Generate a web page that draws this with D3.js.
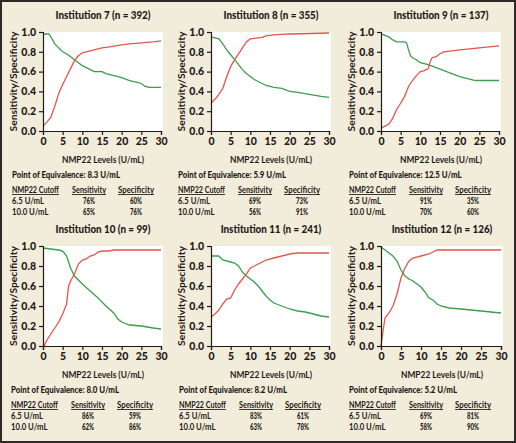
<!DOCTYPE html>
<html><head><meta charset="utf-8">
<script src="https://cdn.jsdelivr.net/npm/d3@7"></script>
<style>
html,body{margin:0;padding:0;background:#fff;}
svg{display:block;}
text{font-family:Lato,'Open Sans',sans-serif;fill:#1f1a17;}
</style></head><body>
<svg id="chart" width="516" height="443"></svg>
<script>
// ---- data ----
const institutions = ["Institution 7", "Institution 8", "Institution 9", "Institution 10", "Institution 11", "Institution 12"];
const sampleSizes = [392, 355, 137, 99, 241, 126];
const equivalencePoints = ["8.3", "5.9", "12.5", "8.0", "8.2", "5.2"];
const cutoffLabels = ["6.5 U/mL", "10.0 U/mL"];
const sensitivity65 = ["76%", "69%", "91%", "86%", "83%", "69%"];
const specificity65 = ["60%", "73%", "35%", "59%", "61%", "81%"];
const sensitivity10 = ["65%", "56%", "70%", "62%", "63%", "58%"];
const specificity10 = ["76%", "91%", "60%", "86%", "78%", "90%"];
const xTicks = [0, 5, 10, 15, 20, 25, 30];
const yTicks = [0, 0.2, 0.4, 0.6, 0.8, 1.0];

// [NMP22 level, value]
const red7 = [[0,0.05],[1,0.09],[2,0.14],[3,0.25],[4,0.38],[5,0.47],[6,0.55],[7,0.63],[8,0.71],[9,0.76],[10,0.79],[11,0.80],[12,0.81],[13,0.82],[15,0.84],[17,0.85],[20,0.87],[22,0.88],[25,0.89],[28,0.90],[30,0.91]];
const green7 = [[0,0.98],[1.5,0.98],[2,0.95],[3,0.88],[4,0.84],[5,0.80],[6,0.78],[7,0.75],[8,0.72],[9,0.69],[10,0.66],[11,0.64],[12,0.62],[13,0.60],[15,0.60],[16,0.58],[18,0.56],[20,0.54],[22,0.51],[24,0.49],[25,0.48],[26,0.45],[27,0.44],[30,0.44]];
const red8 = [[0,0.28],[1,0.32],[2,0.37],[3,0.43],[4,0.55],[5,0.65],[6,0.72],[7,0.78],[8,0.84],[9,0.90],[10,0.93],[12,0.94],[13,0.945],[14,0.96],[16,0.97],[18,0.975],[20,0.98],[25,0.985],[30,0.99]];
const green8 = [[0,0.95],[2,0.93],[3,0.88],[4,0.82],[5,0.77],[6,0.72],[7,0.67],[8,0.62],[9,0.58],[10,0.55],[11,0.52],[12,0.50],[13,0.48],[14,0.46],[16,0.44],[18,0.43],[20,0.40],[22,0.39],[25,0.37],[28,0.35],[30,0.34]];
const red9 = [[0,0.03],[1,0.05],[2,0.07],[3,0.13],[4,0.22],[5,0.28],[6,0.35],[7,0.45],[8,0.51],[9,0.56],[10,0.60],[11,0.61],[12,0.63],[12.5,0.70],[13,0.74],[14,0.75],[15,0.78],[16,0.80],[18,0.81],[20,0.82],[25,0.84],[30,0.86]];
const green9 = [[0,0.98],[2,0.95],[3,0.92],[4,0.90],[6,0.90],[6.5,0.89],[7,0.82],[7.5,0.76],[8,0.74],[9,0.72],[10,0.69],[12,0.67],[14,0.64],[16,0.61],[18,0.58],[20,0.55],[22,0.53],[24,0.51],[26,0.51],[30,0.51]];
const red10 = [[0.3,0.0],[1,0.06],[2,0.12],[3,0.18],[4,0.24],[5,0.32],[6,0.42],[6.5,0.60],[7,0.65],[8,0.72],[9,0.82],[10,0.86],[11,0.87],[12,0.90],[13,0.91],[14,0.94],[15,0.95],[17,0.95],[18,0.96],[30,0.96]];
const green10 = [[0,0.98],[2,0.97],[4,0.96],[5,0.95],[6,0.90],[7,0.78],[8,0.70],[9,0.66],[10,0.62],[12,0.55],[14,0.48],[16,0.40],[18,0.33],[19,0.27],[20,0.24],[22,0.21],[25,0.20],[28,0.18],[30,0.17]];
const red11 = [[0,0.29],[1,0.32],[2,0.36],[3,0.42],[4,0.47],[5,0.48],[6,0.56],[7,0.62],[8,0.67],[9,0.72],[10,0.78],[12,0.82],[14,0.86],[16,0.88],[18,0.90],[20,0.92],[22,0.93],[30,0.93]];
const green11 = [[0,0.90],[2,0.90],[3,0.86],[5,0.84],[6,0.83],[7,0.80],[8,0.74],[9,0.70],[10,0.67],[11,0.64],[12,0.60],[13,0.55],[14,0.50],[15,0.46],[16,0.43],[18,0.40],[20,0.37],[22,0.35],[24,0.34],[26,0.32],[28,0.30],[30,0.29]];
const red12 = [[0,0.0],[0.5,0.15],[1,0.28],[2,0.33],[3,0.40],[4,0.52],[5,0.68],[6,0.78],[7,0.85],[8,0.88],[10,0.90],[12,0.92],[13,0.94],[14,0.96],[30,0.96]];
const green12 = [[0,0.99],[1,0.96],[2,0.93],[3,0.90],[4,0.85],[5,0.76],[6,0.70],[7,0.67],[8,0.65],[10,0.59],[11,0.54],[12,0.48],[13,0.46],[14,0.42],[15,0.40],[17,0.38],[20,0.37],[25,0.35],[30,0.33]];
const redSeries = [red7, red8, red9, red10, red11, red12];
const greenSeries = [green7, green8, green9, green10, green11, green12];

// ---- layout ----
const W = 516, H = 443;
const colLeft = [[43, 211, 381], [43, 211, 381]];
const colWidth = [[118, 118, 118], [118, 118, 120]];
const rowTop = [32, 246];
const rowHeight = [99, 100];
const tableLeft = [[12, 178, 349], [11, 179, 349]];
const RED = "#e2574a", GREEN = "#3a9e4c", BG = "#f2ecda";

const svg = d3.select("#chart");
svg.append("rect").attr("x", 1).attr("y", 1).attr("width", W - 2).attr("height", H - 2)
  .attr("fill", BG).attr("stroke", "#2e2a26").attr("stroke-width", 2);

// horizontally condense a set of texts so that a reference string takes a target width
function condense(sel, refIndex, target) {
  const nodes = sel.nodes();
  const f = target / nodes[refIndex].getComputedTextLength();
  nodes.forEach(n => {
    const L = n.getComputedTextLength();
    n.setAttribute("textLength", (L * f).toFixed(2));
    n.setAttribute("lengthAdjust", "spacingAndGlyphs");
  });
}

institutions.forEach((name, i) => {
  const r = Math.floor(i / 3), c = i % 3;
  const left = colLeft[r][c], top = rowTop[r], w = colWidth[r][c], h = rowHeight[r];
  const x = d3.scaleLinear().domain([0, 30]).range([0, w]);
  const y = d3.scaleLinear().domain([0, 1]).range([h, 0]);
  const g = svg.append("g").attr("transform", `translate(${left},${top})`);

  g.append("rect").attr("width", w + 2).attr("height", h).attr("fill", "#fff");

  g.append("text").attr("class", "ttl").attr("x", w / 2 + 1).attr("y", -13).attr("text-anchor", "middle")
    .style("font-size", "10.5px").style("font-weight", "900")
    .text(`${name} (n = ${sampleSizes[i]})`);

  const line = d3.line().x(d => x(d[0])).y(d => y(d[1]));
  g.append("path").datum(greenSeries[i]).attr("d", line).attr("fill", "none")
    .attr("stroke", GREEN).attr("stroke-width", 1.3);
  g.append("path").datum(redSeries[i]).attr("d", line).attr("fill", "none")
    .attr("stroke", RED).attr("stroke-width", 1.3);

  const xa = g.append("g").attr("transform", `translate(0,${h})`)
    .call(d3.axisBottom(x).tickValues(xTicks).tickSize(4).tickPadding(3).tickFormat(d3.format("d")));
  const ya = g.append("g")
    .call(d3.axisLeft(y).tickValues(yTicks).tickSize(4).tickPadding(3).tickFormat(d3.format(".1f")));
  [xa, ya].forEach(a => {
    a.select(".domain").attr("stroke", "#1f1a17").attr("stroke-width", 1.2);
    a.selectAll(".tick line").attr("stroke", "#1f1a17").attr("stroke-width", 1.2);
    a.selectAll(".tick text").style("font-size", "10.5px").style("font-weight", "900")
      .style("font-family", "Lato,sans-serif").attr("fill", "#1f1a17");
  });

  g.append("text").attr("class", "xl").attr("x", w / 2 + 1).attr("y", h + 32).attr("text-anchor", "middle")
    .style("font-size", "9.5px").style("font-weight", "bold").text("NMP22 Levels (U/mL)");
  g.append("text").attr("class", "yl").attr("transform", `translate(${-29},${h / 2}) rotate(-90)`)
    .attr("text-anchor", "middle").attr("dy", "0.35em")
    .style("font-size", "9.5px").style("font-weight", "bold").text("Sensitivity/Specificity");

  // table
  const tl = tableLeft[r][c];
  const base = top + h;
  const t = svg.append("g").style("font-size", "8.5px").style("font-weight", "900");
  t.append("text").attr("class", "poe").attr("x", tl).attr("y", base + 47).text(`Point of Equivalence: ${equivalencePoints[i]} U/mL`);
  const hdr = [["NMP22 Cutoff", tl, "start", "h1"], ["Sensitivity", tl + 77, "middle", "h2"], ["Specificity", tl + 124, "middle", "h3"]];
  hdr.forEach(([txt, hx, anc, cls]) => {
    t.append("text").attr("class", cls).attr("x", hx).attr("y", base + 62).attr("text-anchor", anc)
      .style("font-weight", "bold").style("text-decoration", "underline").text(txt);
  });
  const rows = [[cutoffLabels[0], sensitivity65[i], specificity65[i]], [cutoffLabels[1], sensitivity10[i], specificity10[i]]];
  rows.forEach((row, k) => {
    const yy = base + 73 + k * 11;
    t.append("text").attr("class", "cut").attr("x", tl).attr("y", yy).style("font-weight", "bold").text(row[0]);
    t.append("text").attr("class", "val").attr("x", tl + 77).attr("y", yy).attr("text-anchor", "middle").text(row[1]);
    t.append("text").attr("class", "val").attr("x", tl + 124).attr("y", yy).attr("text-anchor", "middle").text(row[2]);
  });
});

condense(svg.selectAll("text.ttl"), 0, 95);
condense(svg.selectAll("text.xl"), 0, 82);
condense(svg.selectAll("text.yl"), 0, 100);
condense(svg.selectAll("text.poe"), 0, 108);
condense(svg.selectAll("text.h1"), 0, 47);
condense(svg.selectAll("text.h2"), 0, 34);
condense(svg.selectAll("text.h3"), 0, 36);
condense(svg.selectAll("text.cut"), 0, 32);
condense(svg.selectAll("text.val"), 0, 12);
</script>
</body></html>
